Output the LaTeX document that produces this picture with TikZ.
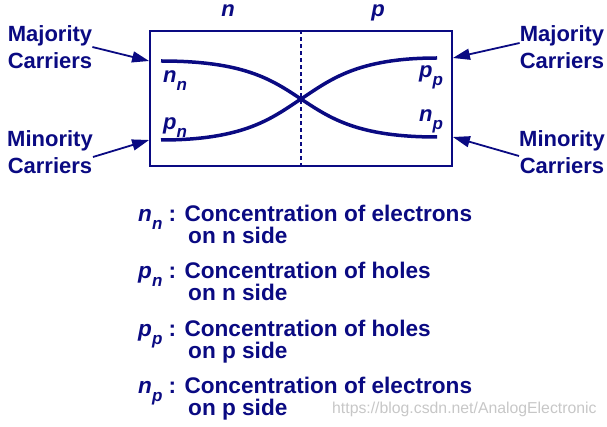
\documentclass[tikz,border=0pt]{standalone}
\usepackage{fontspec}
\setmainfont{Liberation Sans}
\usetikzlibrary{arrows.meta}
\definecolor{ink}{RGB}{10,10,130}
\newcommand{\conc}[2]{\textit{#1}\raisebox{-8pt}{\fontsize{17}{17}\selectfont\textit{#2}}}
\tikzset{
  lbl/.style={font=\fontsize{22}{27}\selectfont\bfseries, text=ink, inner sep=0pt},
  carrier/.style={lbl, align=center},
  deflbl/.style={lbl, font=\fontsize{22.6}{27}\selectfont\bfseries, anchor=base west},
  pointer/.style={ink, line width=1.8pt, -{Triangle[length=17pt,width=11pt]}},
  curve/.style={ink, line width=3.5pt},
}
\begin{document}
\begin{tikzpicture}[x=1pt,y=-1pt]
  \useasboundingbox (0,0) rectangle (607,427);
  \node[draw=ink, line width=1.8pt, minimum width=302pt, minimum height=135pt, inner sep=0pt] (box) at (301,98.5) {};
  \draw[ink, line width=1.5pt, dash pattern=on 4pt off 3pt] (box.north) -- (box.south);
  \node[lbl, anchor=base] (nside) at (228,17) {\textit{n}};
  \node[lbl, anchor=base] (pside) at (378,17) {\textit{p}};

  \coordinate (nnL) at (161,61);
  \coordinate (pnL) at (161,140);
  \coordinate (mid) at (301,99);
  \coordinate (ppR) at (437,58);
  \coordinate (npR) at (437,137);
  \draw[curve] (nnL) .. controls (245,61) and (272,80) .. (mid) .. controls (330,118) and (357,137) .. (npR);
  \draw[curve] (pnL) .. controls (245,140) and (272,118) .. (mid) .. controls (330,80) and (357,58) .. (ppR);

  \node[lbl, anchor=base west] (nn) at (163,83) {\conc{n}{n}};
  \node[lbl, anchor=base west] (pn) at (163,130) {\conc{p}{n}};
  \node[lbl, anchor=base west] (pp) at (419,78) {\conc{p}{p}};
  \node[lbl, anchor=base west] (np) at (419,122) {\conc{n}{p}};

  \node[carrier] (majL) at (50,47) {Majority\\Carriers};
  \node[carrier] (minL) at (50,152) {Minority\\Carriers};
  \node[carrier] (majR) at (562,47) {Majority\\Carriers};
  \node[carrier] (minR) at (562,152) {Minority\\Carriers};
  \draw[pointer] (majL.east) -- (box.west |- nnL);
  \draw[pointer] ([yshift=-5pt]minL.east) -- (box.west |- pnL);
  \draw[pointer] ([yshift=4pt]majR.west) -- (box.east |- ppR);
  \draw[pointer] ([yshift=-4pt]minR.west) -- (box.east |- npR);

  \foreach \i/\car/\reg/\what/\side in {0/n/n/electrons/n, 1/p/n/holes/n, 2/p/p/holes/p, 3/n/p/electrons/p} {
    \node[deflbl] (def\i) at (138,222+57*\i) {\conc{\car}{\reg} : Concentration of \what};
    \node[deflbl] (side\i) at (188,244+57*\i) {on \side\ side};
  }
  \node[font=\fontsize{15.8}{16}\selectfont, text=black!22, anchor=base west, inner sep=0pt] (mark) at (332,413) {https://blog.csdn.net/AnalogElectronic};
\end{tikzpicture}
\end{document}
